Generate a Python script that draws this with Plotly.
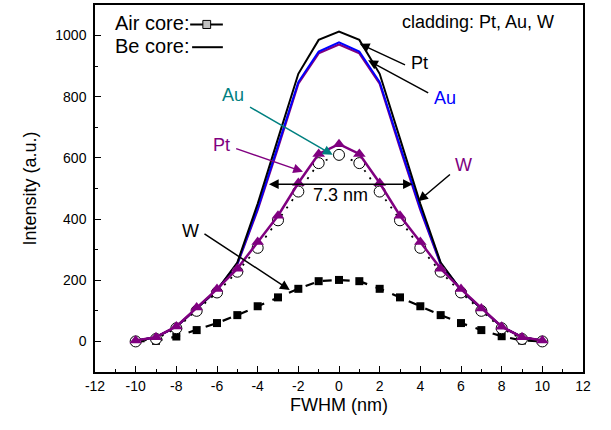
import plotly.graph_objects as go

# ---------------- data ----------------
x_nm = [-10, -9, -8, -7, -6, -5, -4, -3, -2, -1, 0, 1, 2, 3, 4, 5, 6, 7, 8, 9, 10]

# Be core (lines only)
be_pt = [2, 14, 48, 108, 168, 258, 450, 663, 875, 986, 1013, 986, 875, 663, 450, 258, 168, 108, 48, 14, 2]
be_au = [2, 14, 48, 108, 168, 255, 435, 640, 848, 948, 978, 948, 848, 640, 435, 255, 168, 108, 48, 14, 2]
be_w = [2, 14, 48, 108, 168, 252, 430, 633, 843, 942, 971, 942, 843, 633, 430, 252, 168, 108, 48, 14, 2]

# Air core (lines + markers)
air_pt = [3, 14, 49, 111, 171, 238, 325, 411, 518, 613, 645, 613, 518, 411, 325, 238, 171, 108, 48, 14, 3]
air_au = [0, 8, 43, 100, 160, 228, 306, 396, 490, 583, 610, 583, 490, 396, 306, 228, 160, 100, 43, 8, 0]
air_w = [0, 2, 16, 37, 60, 86, 115, 144, 172, 197, 201, 197, 172, 144, 115, 86, 60, 37, 17, 3, 0]

x_ticks = list(range(-12, 13, 2))
y_ticks = list(range(0, 1001, 200))

FONT = "Liberation Sans, Arial, sans-serif"
PURPLE = "#800080"
BLUE = "#0000FF"
TEAL = "#008080"

fig = go.Figure()

# Be core lines
fig.add_trace(go.Scatter(x=x_nm, y=be_w, mode="lines", line=dict(color=PURPLE, width=2.2)))
fig.add_trace(go.Scatter(x=x_nm, y=be_au, mode="lines", line=dict(color=BLUE, width=2)))
fig.add_trace(go.Scatter(x=x_nm, y=be_pt, mode="lines", line=dict(color="black", width=2)))

# Air core
fig.add_trace(go.Scatter(x=x_nm, y=air_w, mode="lines+markers",
                         line=dict(color="black", width=2.2, dash="dash"),
                         marker=dict(symbol="square", size=8, color="black")))
fig.add_trace(go.Scatter(x=x_nm, y=air_au, mode="lines+markers",
                         line=dict(color="black", width=1.8, dash="2px,7px"),
                         marker=dict(symbol="circle", size=11, color="white",
                                     line=dict(color="black", width=1))))
fig.add_trace(go.Scatter(x=x_nm, y=air_pt, mode="lines+markers",
                         line=dict(color=PURPLE, width=2.5),
                         marker=dict(symbol="triangle-up", size=11, color=PURPLE)))

ann = []
def label(x, y, text, color, size=18):
    ann.append(dict(x=x, y=y, xref="x", yref="y", text=text, showarrow=False,
                    font=dict(family=FONT, size=size, color=color)))

def arrow(x0, y0, x1, y1, color, side="end"):
    ann.append(dict(x=x1, y=y1, ax=x0, ay=y0, xref="x", yref="y", axref="x", ayref="y",
                    text="", showarrow=True, arrowhead=2, arrowsize=1.3, arrowwidth=1.5,
                    arrowcolor=color, arrowside=side, standoff=0, startstandoff=0))

# Be core labels
label(3.95, 909, "Pt", "black")
arrow(3.32, 902, 1.02, 973, "black")
label(5.2, 795, "Au", BLUE)
arrow(4.46, 810, 1.43, 919, "black")
label(6.1, 577, "W", PURPLE)
arrow(5.53, 550, 3.89, 458, "black")

# Air core labels
label(-5.2, 805, "Au", TEAL)
arrow(-4.45, 769, -0.31, 610, TEAL)
label(-5.8, 642, "Pt", PURPLE)
arrow(-5.13, 632, -1.77, 555, PURPLE)
label(-7.3, 360, "W", "black")
arrow(-6.69, 355, -2.42, 168, "black")

# FWHM arrow
arrow(-3.52, 514, 3.63, 514, "black", side="end+start")
label(0.05, 478, "7.3 nm", "black", size=18)

# cladding text
ann.append(dict(x=0.945, y=0.955, xref="paper", yref="paper", xanchor="right", yanchor="middle",
                text="cladding: Pt, Au, W", showarrow=False,
                font=dict(family=FONT, size=18, color="black")))

# legend (manual)
ann.append(dict(x=0.037, y=0.95, xref="paper", yref="paper", xanchor="left", yanchor="middle",
                text="Air core:", showarrow=False, font=dict(family=FONT, size=20, color="black")))
ann.append(dict(x=0.037, y=0.888, xref="paper", yref="paper", xanchor="left", yanchor="middle",
                text="Be core:", showarrow=False, font=dict(family=FONT, size=20, color="black")))

shapes = [
    dict(type="line", xref="paper", yref="paper", x0=0.195, x1=0.262, y0=0.947, y1=0.947,
         line=dict(color="black", width=2)),
    dict(type="rect", xref="paper", yref="paper", x0=0.221, x1=0.237, y0=0.936, y1=0.958,
         line=dict(color="black", width=1), fillcolor="#C0C0C0"),
    dict(type="line", xref="paper", yref="paper", x0=0.199, x1=0.262, y0=0.885, y1=0.885,
         line=dict(color="black", width=2)),
]

axis_common = dict(showgrid=False, zeroline=False, showline=True, linecolor="black", linewidth=1.5,
                   mirror=True, ticks="inside", ticklen=6, tickwidth=1.3, tickcolor="black",
                   tickfont=dict(family=FONT, size=14, color="black"))

fig.update_layout(
    width=611, height=430,
    margin=dict(l=95, r=28, t=3, b=58),
    paper_bgcolor="white", plot_bgcolor="white",
    showlegend=False,
    annotations=ann, shapes=shapes,
    xaxis=dict(range=[-12, 12], tickvals=x_ticks, ticktext=[str(v) for v in x_ticks],
               minor=dict(dtick=1, tick0=0, ticks="inside", ticklen=3, tickcolor="black", tickwidth=1.3),
               title=dict(text="FWHM (nm)", font=dict(family=FONT, size=18, color="black"), standoff=6),
               **axis_common),
    yaxis=dict(range=[-100, 1100], tickvals=y_ticks, ticktext=[str(v) for v in y_ticks],
               ticklabelstandoff=4,
               minor=dict(dtick=100, tick0=0, ticks="inside", ticklen=3, tickcolor="black", tickwidth=1.3),
               title=dict(text="Intensity (a.u.)", font=dict(family=FONT, size=18, color="black"), standoff=14),
               **axis_common),
)

fig.write_html("out.html")
